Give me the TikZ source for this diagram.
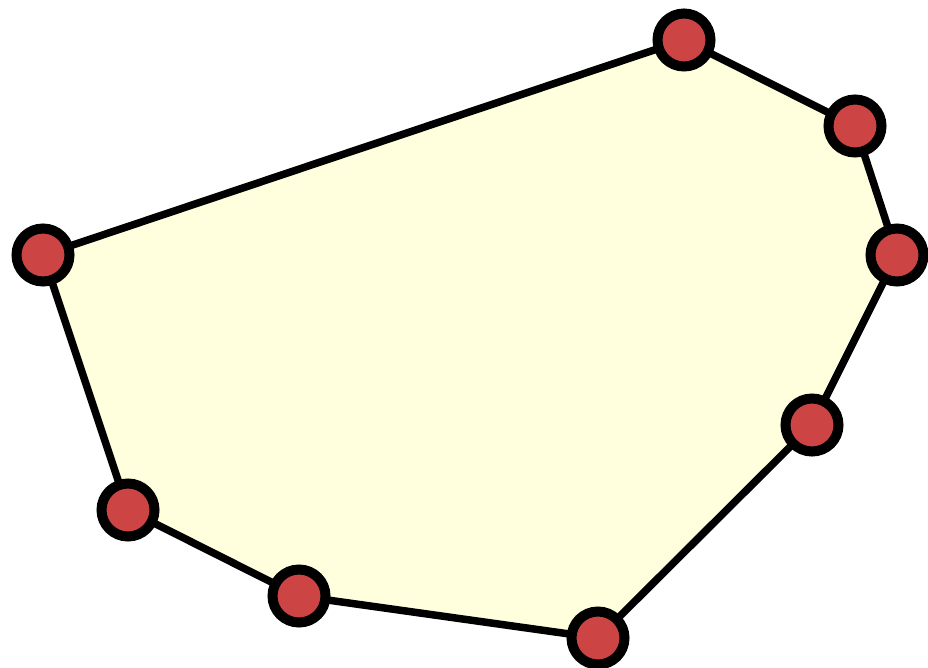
\documentclass[tikz,border=0pt]{standalone}
\begin{document}
\begin{tikzpicture}[x=1pt,y=-1pt,
  vert/.style={circle,draw=black,line width=10pt,fill=vred,minimum size=53pt,inner sep=0pt},
  edge/.style={draw=black,line width=7.5pt,line join=round}]
\definecolor{vred}{HTML}{CC4444}
\definecolor{hullfill}{HTML}{FFFFDD}
\useasboundingbox (0,0) rectangle (928,668);
\coordinate (p1) at (684,40);
\coordinate (p2) at (855,126);
\coordinate (p3) at (897,255);
\coordinate (p4) at (812,425);
\coordinate (p5) at (598,638);
\coordinate (p6) at (299,596);
\coordinate (p7) at (128,510);
\coordinate (p8) at (43,255);
\path[edge,fill=hullfill] (p1) -- (p2) -- (p3) -- (p4) -- (p5) -- (p6) -- (p7) -- (p8) -- cycle;
\foreach \i in {1,...,8} \node[vert] (v\i) at (p\i) {};
\end{tikzpicture}
\end{document}
